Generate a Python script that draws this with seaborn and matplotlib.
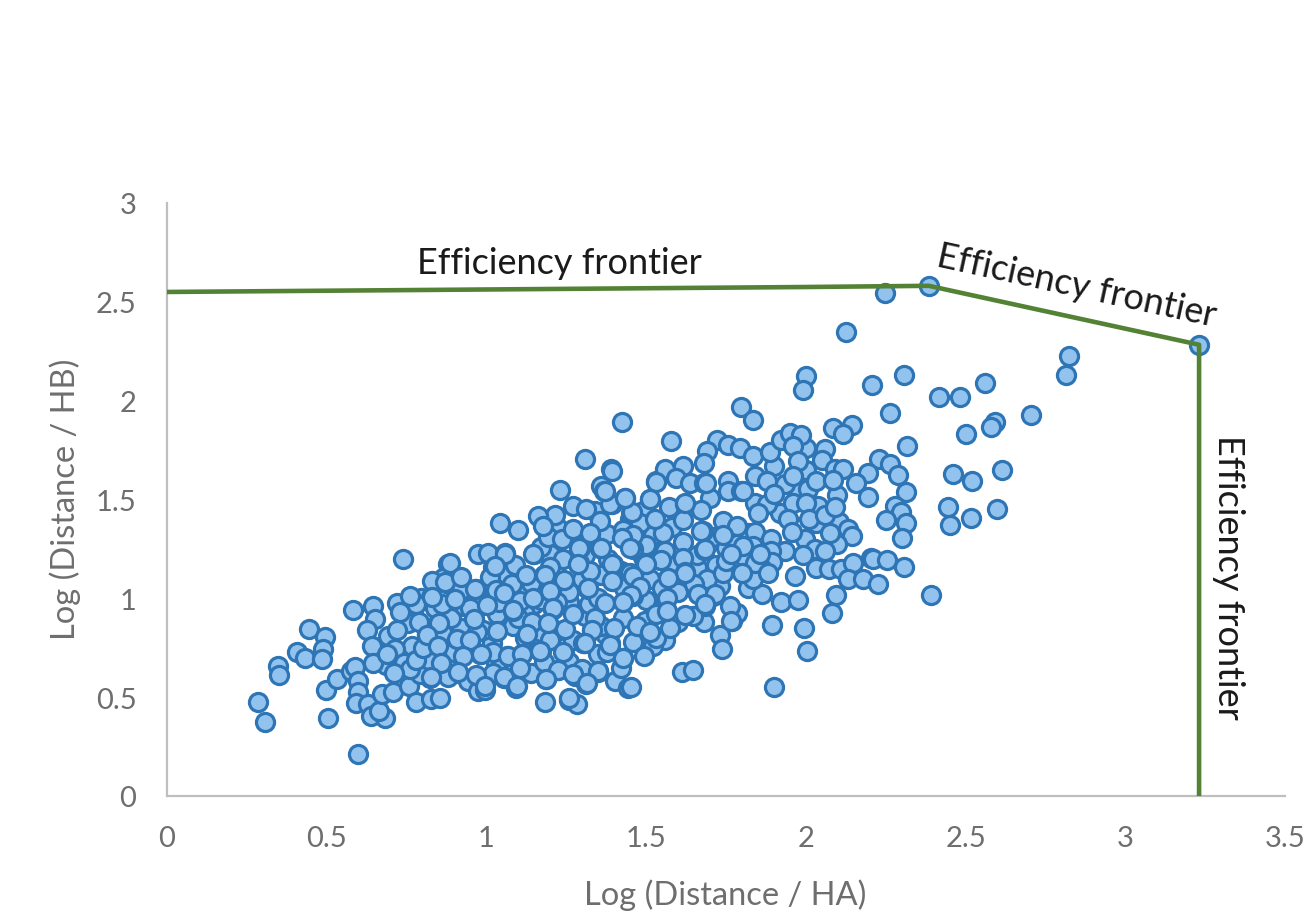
import matplotlib
matplotlib.use("Agg")
import matplotlib.pyplot as plt
import pandas as pd
import seaborn as sns

# (Log distance/HA, Log distance/HB)
lower_cluster = [
(0.286,0.476),(0.307,0.372),(0.505,0.397),(0.599,0.212),(0.348,0.658),(0.351,0.613),(0.406,0.729),(0.432,0.697),
(0.445,0.843),(0.494,0.806),(0.489,0.742),(0.484,0.692),(0.497,0.537),(0.531,0.594),(0.575,0.630),(0.588,0.655),
(0.599,0.582),(0.599,0.524),(0.591,0.468),(0.630,0.465),(0.640,0.406),(0.682,0.397),(0.664,0.431),(0.672,0.515),
(0.708,0.524),(0.758,0.554),(0.779,0.476),(0.828,0.490),(0.854,0.495),(0.823,0.596),(0.740,1.197),(0.581,0.939),
(0.644,0.961),(0.719,0.975),(0.651,0.894),(0.625,0.840),(0.693,0.810),(0.643,0.759),(0.766,0.759),(0.713,0.742),
(0.769,0.928),(0.755,0.874),(0.794,1.003),(0.828,1.008),(0.813,0.818),(0.849,0.874),(0.846,0.759),(0.880,1.172),
(0.865,1.104),(0.873,1.079),(0.917,1.104),(0.901,0.998),(0.967,1.045),(0.962,0.894),(1.000,0.965),(0.906,0.793),
(0.922,0.709),(0.856,0.672),(0.742,0.675),(0.687,0.662),(0.646,0.675),(0.792,0.616),(0.906,0.621),(0.967,0.608),
(0.943,0.582),(0.979,0.717),(0.974,0.532),(0.995,0.537),(1.055,0.596),(1.092,0.546),(1.016,0.773),(1.026,0.835),
(1.032,0.919),(1.082,0.941),(1.082,0.860),(1.063,0.709),(1.110,0.717),(1.141,0.882),(1.016,1.079),(1.058,1.029),
(1.061,1.121),(1.021,1.160),(0.974,1.222),(1.006,1.231),(1.058,1.227),(1.042,1.382),(1.099,1.345),(1.148,1.222),
(1.199,1.222),(1.120,1.113),(1.105,1.029),(1.181,1.116),(1.197,1.037),(1.242,1.087),(1.258,0.981),(1.207,0.948),
(1.193,0.874),(1.225,0.835),(1.170,0.734),(1.242,0.726),(1.308,0.911),(1.329,0.840),(1.306,0.776),(1.188,0.591),
(1.225,0.636),(1.277,0.608),(1.313,0.566),(1.350,0.630),(1.402,0.582),(1.183,0.476),(1.259,0.487),(1.282,0.465),
(1.444,0.545),(1.428,0.697),(1.386,0.776),(1.371,0.818),(1.428,0.902),(1.368,0.978),(1.319,1.049),(1.324,1.130),
(0.78,0.97),(0.84,0.95),(0.86,0.83),(0.92,0.85),(0.95,0.77),(0.99,0.84),(0.89,0.90),(0.93,0.96),(0.97,1.00),
(1.04,0.98),(1.08,1.07),(1.14,1.08),(1.15,0.97),(1.12,0.92),(1.17,0.83),(1.12,0.80),(1.03,0.67),(1.09,0.64),
(1.14,0.62),(1.02,0.62),(0.88,0.60),(0.82,0.69),(0.76,0.64),(0.72,0.84),(0.79,0.88),(0.73,0.93),
]
core_cluster = [
(1.397,1.172),(1.397,1.087),(1.287,1.172),(1.292,1.256),(1.357,1.256),(1.376,1.323),(1.324,1.327),(1.193,1.311),
(1.237,1.298),(1.214,1.424),(1.162,1.419),(1.272,1.466),(1.311,1.450),(1.230,1.550),(1.360,1.567),(1.368,1.542),
(1.392,1.475),(1.357,1.391),(1.433,1.508),(1.423,1.892),(1.308,1.707),(1.389,1.655),(1.577,1.795),(1.454,1.433),
(1.511,1.503),(1.532,1.593),(1.558,1.655),(1.616,1.672),(1.595,1.609),(1.637,1.584),(1.681,1.584),(1.621,1.475),
(1.673,1.449),(1.616,1.396),(1.482,1.379),(1.178,1.365),(1.428,1.348),(1.553,1.328),(1.501,1.268),(1.290,1.256),
(1.146,1.222),(1.058,1.222),(1.616,1.284),(1.678,1.340),(1.680,1.247),(1.616,1.205),(1.543,1.192),(1.496,1.172),
(1.289,1.177),(1.621,1.133),(1.569,1.104),(1.511,1.096),(1.691,1.096),(1.318,1.045),(1.198,1.037),(1.105,0.985),
(1.459,1.012),(1.558,0.995),(1.663,1.020),(1.710,1.012),(1.819,1.054),(1.863,1.023),(1.209,0.948),(1.084,0.936),
(1.558,0.941),(1.684,0.961),(1.647,0.911),(1.621,0.914),(1.496,0.885),(1.143,0.882),(1.245,0.843),(1.470,0.860),
(1.532,0.801),(1.574,0.852),(1.303,0.776),(1.167,0.734),(1.240,0.726),(1.376,0.726),(1.428,0.700),(1.494,0.709),
(1.225,0.638),(1.272,0.616),(1.350,0.628),(1.452,0.549),(1.094,0.549),(1.058,0.599),(1.258,0.498),(1.769,0.885),
(1.783,0.927),(1.762,0.961),(1.731,0.815),(1.736,0.742),(1.611,0.628),(1.647,0.638),(1.894,0.865),(1.993,0.852),
(2.004,0.734),(1.901,0.549),(1.922,0.983),(1.974,0.992),(1.965,1.113),(1.46,1.25),(1.45,1.13),(1.55,1.05),
(1.43,1.05),(1.35,1.00),(1.27,0.92),(1.34,0.90),(1.40,0.85),(1.53,0.92),(1.60,1.03),(1.65,1.07),(1.74,1.13),
(1.46,1.32),(1.56,1.24),(1.27,1.35),(1.20,1.16),(1.38,1.20),
]
upper_cluster = [
(2.247,2.547),(2.385,2.581),(3.231,2.283),(2.127,2.345),(2.824,2.224),(2.814,2.130),(2.308,2.132),(2.208,2.079),
(2.000,2.127),(1.990,2.052),(2.560,2.088),(2.418,2.017),(2.483,2.017),(2.263,1.938),(2.704,1.930),(2.593,1.894),
(2.581,1.867),(2.500,1.832),(2.143,1.879),(2.085,1.862),(2.115,1.829),(2.318,1.770),(2.059,1.753),(2.002,1.761),
(2.049,1.702),(2.229,1.707),(2.263,1.680),(2.287,1.623),(2.195,1.635),(2.158,1.581),(2.090,1.652),(2.117,1.655),
(2.315,1.539),(2.193,1.512),(2.098,1.522),(2.007,1.551),(2.033,1.593),(2.085,1.600),(2.461,1.627),(2.521,1.593),
(2.615,1.647),(2.445,1.462),(2.450,1.369),(2.516,1.404),(2.599,1.450),(2.278,1.467),(2.297,1.436),(2.315,1.383),
(2.252,1.396),(2.301,1.307),(2.038,1.467),(2.033,1.383),(2.104,1.386),(2.132,1.349),(2.143,1.315),(2.098,1.273),
(2.075,1.332),(1.997,1.298),(2.028,1.248),(2.059,1.239),(2.033,1.155),(2.073,1.150),(2.111,1.150),(2.148,1.180),
(2.205,1.206),(2.210,1.197),(2.254,1.194),(2.308,1.159),(2.132,1.096),(2.179,1.096),(2.226,1.071),(2.391,1.017),
(2.094,1.017),(2.082,0.928),(1.796,1.966),(1.835,1.901),(1.722,1.800),(1.755,1.778),(1.689,1.744),(1.681,1.685),
(1.793,1.761),(1.835,1.722),(1.889,1.739),(1.922,1.803),(1.950,1.837),(1.986,1.828),(1.960,1.769),(1.976,1.697),
(1.757,1.593),(1.757,1.542),(1.798,1.542),(1.842,1.483),(1.877,1.475),(1.877,1.593),(1.934,1.576),(1.960,1.618),
(1.960,1.483),(1.945,1.399),(1.958,1.335),(1.741,1.390),(1.785,1.365),(1.840,1.337),(1.751,1.256),(1.783,1.273),
(1.835,1.264),(1.892,1.298),(1.934,1.239),(1.892,1.239),(1.895,1.183),(1.845,1.172),(1.861,1.155),(1.751,1.188),
(1.809,1.205),(1.835,1.096),
]
dense_left = [
(1.291,1.256),(1.324,1.328),(1.357,1.256),(1.394,1.172),(1.394,1.087),(1.324,1.138),(1.319,1.054),(1.288,1.175),
(1.243,1.091),(1.183,1.116),(1.124,1.116),(1.027,1.163),(0.886,1.177),(0.870,1.082),(0.919,1.108),(0.964,1.045),
(1.055,1.025),(0.902,0.998),(0.829,1.008),(1.001,0.965),(1.199,1.037),(1.209,0.953),(1.371,0.978),(1.084,0.941),
(1.147,1.003),(1.144,0.882),(1.194,0.877),(0.961,0.897),(0.851,0.877),(1.032,0.835),(1.329,0.838),(0.813,0.815),
(1.126,0.818),(0.909,0.796),(1.308,0.773),(0.849,0.759),(0.948,0.790),(1.387,0.763),(1.168,0.734),(0.926,0.709),
(0.983,0.717),(1.066,0.709),(1.112,0.717),(0.857,0.672),(0.910,0.625),(0.825,0.604),(0.967,0.611),(1.055,0.604),
(1.105,0.650),(1.350,0.630),(1.186,0.594),(1.314,0.571),(0.995,0.557),(1.095,0.557),
]
dense_right = [
(1.392,1.644),(1.532,1.590),(1.687,1.585),(1.804,1.543),(1.388,1.475),(1.456,1.438),(1.623,1.480),(1.527,1.399),
(1.423,1.307),(1.673,1.341),(1.449,1.256),(1.684,1.248),(1.360,1.256),(1.546,1.194),(1.840,1.181),(1.499,1.172),
(1.621,1.130),(1.567,1.105),(1.459,1.113),(1.480,1.059),(1.663,1.024),(1.715,1.021),(1.454,1.016),(1.564,1.004),
(1.428,0.979),(1.684,0.970),(1.564,0.937),(1.767,0.886),(1.511,0.832),(1.371,1.543),(1.433,1.509),(1.511,1.504),
(1.804,1.265),(1.767,1.225),(1.855,1.225),(1.880,1.130),(1.800,1.130),(1.740,1.320),(1.850,1.430),(1.900,1.530),
(2.000,1.480),(2.010,1.400),(1.990,1.220),(2.060,1.420),(2.090,1.460),
]
dense_gaps = [
(1.01,1.11),(1.09,1.17),(1.17,1.26),(1.24,1.20),(1.30,1.10),(1.36,1.12),(1.26,1.03),(1.17,0.99),(1.10,0.90),
(1.03,1.04),(0.95,0.95),(0.97,0.83),(0.90,0.73),(1.02,0.73),(1.20,0.79),(1.27,0.79),(1.36,0.86),(1.26,0.68),
(1.18,0.68),(1.35,0.72),(1.30,0.64),(1.42,0.65),(1.46,0.78),(1.56,0.79),(1.50,0.99),(1.42,1.14),(1.49,1.21),
(1.59,1.17),(1.52,1.32),(1.58,1.36),(1.45,1.40),(1.66,1.16),(1.72,1.17),(1.66,1.22),(1.71,1.31),(1.78,1.19),
(1.92,1.43),(1.98,1.55),(1.82,1.33),(1.73,1.06),(1.68,0.88),(1.60,0.88),(1.52,0.76),(1.22,0.98),(1.32,0.97),
(1.31,1.22),(1.22,1.36),(1.34,1.44),(1.49,1.44),(1.57,1.46),(1.70,1.51),(1.84,1.62),(1.90,1.67),(2.00,1.65),
(0.78,0.69),(0.71,0.62),(0.80,0.75),(0.69,0.72),(0.86,0.97),(0.83,1.09),(0.76,1.01),(0.92,1.04),
]
frontier_x = [0.0, 2.0, 2.385, 3.231, 3.231]
frontier_y = [2.55, 2.575, 2.581, 2.283, 0.0]
x_ticks = [0, 0.5, 1, 1.5, 2, 2.5, 3, 3.5]
y_ticks = [0, 0.5, 1, 1.5, 2, 2.5, 3]
tick_labels_x = ["0", "0.5", "1", "1.5", "2", "2.5", "3", "3.5"]
tick_labels_y = ["0", "0.5", "1", "1.5", "2", "2.5", "3"]

sns.set_theme(style="white")
plt.rcParams["font.family"] = ["Lato", "DejaVu Sans"]

W, H = 1308, 912
fig = plt.figure(figsize=(W / 100, H / 100), dpi=100, facecolor="white")
ax = fig.add_axes([167 / W, 1 - 797 / H, (1285 - 167) / W, (797 - 204) / H])

df = pd.DataFrame(lower_cluster + dense_gaps + core_cluster + upper_cluster + dense_left + dense_right,
                  columns=["ha", "hb"])
sns.scatterplot(data=df, x="ha", y="hb", ax=ax, s=170, color="#92C2EE",
                edgecolor="#2E75B6", linewidth=2.3, zorder=2, clip_on=False)
sns.lineplot(x=frontier_x, y=frontier_y, ax=ax, sort=False, estimator=None,
             color="#548235", linewidth=3.3, zorder=3)

ax.set_xlim(0, 3.5)
ax.set_ylim(0, 3)
ax.set_xticks(x_ticks, tick_labels_x)
ax.set_yticks(y_ticks, tick_labels_y)
ax.tick_params(length=0, labelsize=21, labelcolor="#6E6E6E")
ax.tick_params(axis="x", pad=21)
ax.tick_params(axis="y", pad=22)
ax.set_xlabel("")
ax.set_ylabel("")
ax.grid(False)
for side in ("top", "right"):
    ax.spines[side].set_visible(False)
for side in ("left", "bottom"):
    ax.spines[side].set_color("#BFBFBF")
    ax.spines[side].set_linewidth(1.6)

fig.text(725 / W, 1 - 895 / H, "Log (Distance / HA)", color="#6E6E6E", fontsize=23.5,
         ha="center", va="center")
fig.text(65 / W, 1 - 499 / H, "Log (Distance / HB)", color="#6E6E6E", fontsize=23.5,
         ha="center", va="center", rotation=90)
fig.text(559 / W, 1 - 263 / H, "Efficiency frontier", color="#1a1a1a", fontsize=26,
         ha="center", va="center")
fig.text(1077 / W, 1 - 286 / H, "Efficiency frontier", color="#1a1a1a", fontsize=26,
         ha="center", va="center", rotation=-12.3, rotation_mode="anchor")
fig.text(1229 / W, 1 - 577 / H, "Efficiency frontier", color="#1a1a1a", fontsize=26,
         ha="center", va="center", rotation=-90)

fig.savefig("out.png", dpi=100, facecolor="white")
